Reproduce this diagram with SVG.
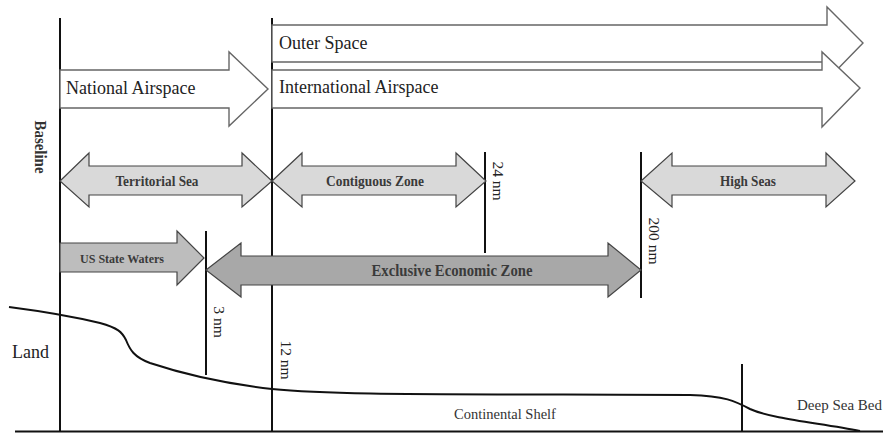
<svg xmlns="http://www.w3.org/2000/svg" width="883" height="433" viewBox="0 0 883 433">
<style>
.vl{stroke:#111;stroke-width:2;fill:none}
.wa{fill:#fff;stroke:#666;stroke-width:1.4}
.ga{fill:#d9d9d9;stroke:#444;stroke-width:1.2}
.ma{fill:#bdbdbd;stroke:#444;stroke-width:1.2}
.da{fill:#a8a8a8;stroke:#444;stroke-width:1.2}
.big{font-family:"Liberation Serif",serif;font-size:18px;fill:#222}
.lbl{font-family:"Liberation Serif",serif;font-size:15px;font-weight:bold;fill:#3a3a3a;text-anchor:middle;dominant-baseline:central}
.nm{font-family:"Liberation Serif",serif;font-size:15.5px;fill:#222;text-anchor:middle;dominant-baseline:central}
</style>
<rect width="883" height="433" fill="#fff"/>
<g id="connectors">
<line class="vl" x1="60" y1="18" x2="60" y2="432"/>
<line class="vl" x1="272" y1="18" x2="272" y2="432"/>
<line class="vl" x1="206" y1="231" x2="206" y2="375"/>
<line class="vl" x1="485" y1="152" x2="485" y2="253"/>
<line class="vl" x1="641" y1="152" x2="641" y2="298"/>
<line class="vl" x1="742" y1="364" x2="742" y2="432"/>
<line class="vl" x1="15" y1="431.5" x2="883" y2="431.5" stroke-width="2.2"/>
<path class="vl" d="M9,307 C40,311 75,317 100,323 C118,328 122,332 126,340 C130,350 134,357 150,363 C180,373 220,383 272,389 C330,395 420,394 690,395 C725,396 735,401 750,409 C772,419 820,423 860,431" stroke-width="2"/>
</g>
<g id="outer-space">
<polygon class="wa" points="272,25 827,25 827,7 863,43 827,80 827,62 272,62"/>
<text class="big" x="279" y="49">Outer Space</text>
</g>
<g id="international-airspace">
<polygon class="wa" points="272,70 822,70 822,52 860,88 822,127 822,108 272,108"/>
<text class="big" x="279" y="93">International Airspace</text>
</g>
<g id="national-airspace">
<polygon class="wa" points="60,70 229,70 229,52 268,89 229,126 229,108 60,108"/>
<text class="big" x="66" y="94">National Airspace</text>
</g>
<g id="territorial-sea">
<polygon class="ga" points="60,181 89,153 89,166 242,166 242,153 272,181 242,207 242,195 89,195 89,207"/>
<text class="lbl" x="157" y="181" textLength="83" lengthAdjust="spacingAndGlyphs">Territorial Sea</text>
</g>
<g id="contiguous-zone">
<polygon class="ga" points="272,181 302,153 302,166 456,166 456,153 486,181 456,207 456,195 302,195 302,207"/>
<text class="lbl" x="375" y="181" textLength="98" lengthAdjust="spacingAndGlyphs">Contiguous Zone</text>
</g>
<g id="high-seas">
<polygon class="ga" points="641,181 672,153 672,166 826,166 826,153 855,181 826,207 826,195 672,195 672,207"/>
<text class="lbl" x="748" y="181" textLength="56" lengthAdjust="spacingAndGlyphs">High Seas</text>
</g>
<g id="us-state-waters">
<polygon class="ma" points="60,243 177,243 177,231 204,258 177,285 177,272 60,272"/>
<text class="lbl" x="122" y="258" style="font-size:13.5px" textLength="84" lengthAdjust="spacingAndGlyphs">US State Waters</text>
</g>
<g id="eez">
<polygon class="da" points="206,270 241,243 241,256 608,256 608,243 641,270 608,297 608,285 241,285 241,297"/>
<text class="lbl" x="452" y="270" style="font-size:16.5px" textLength="161" lengthAdjust="spacingAndGlyphs">Exclusive Economic Zone</text>
</g>
<g id="labels">
<text x="40" y="147" transform="rotate(90 40 147)" textLength="53" lengthAdjust="spacingAndGlyphs" style="font-family:'Liberation Serif',serif;font-size:16px;font-weight:bold;fill:#333;text-anchor:middle;dominant-baseline:central">Baseline</text>
<text class="nm" x="498" y="181" transform="rotate(90 498 181)">24 nm</text>
<text class="nm" x="654" y="241" transform="rotate(90 654 241)">200 nm</text>
<text class="nm" x="219" y="322" transform="rotate(90 219 322)">3 nm</text>
<text class="nm" x="286" y="360" transform="rotate(90 286 360)">12 nm</text>
<text class="big" x="12" y="358">Land</text>
<text x="505" y="419" style="font-family:'Liberation Serif',serif;font-size:14.5px;fill:#333;text-anchor:middle">Continental Shelf</text>
<text x="797" y="410" style="font-family:'Liberation Serif',serif;font-size:15px;fill:#333">Deep Sea Bed</text>
</g>
</svg>
